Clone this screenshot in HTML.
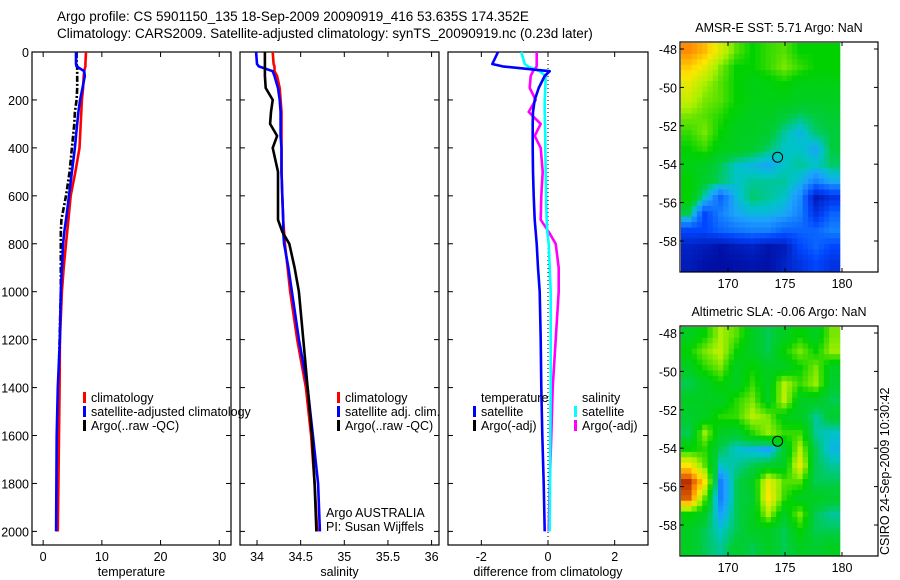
<!DOCTYPE html>
<html><head><meta charset="utf-8"><style>
html,body{margin:0;padding:0;background:#fff;}
svg{display:block;font-family:"Liberation Sans",sans-serif;}
text{font-size:12.5px;fill:#000;}
</style></head><body>
<svg id="chart" width="900" height="580" viewBox="0 0 900 580">
<text x="57" y="21" style="font-size:13.5px">Argo profile: CS 5901150_135 18-Sep-2009 20090919_416 53.635S 174.352E</text>
<text x="57" y="38" style="font-size:13.5px">Climatology: CARS2009. Satellite-adjusted climatology: synTS_20090919.nc (0.23d later)</text>
<g id="plots"></g>
<text transform="translate(889,555) rotate(-90)" style="font-size:12.5px">CSIRO 24-Sep-2009 10:30:42</text>
</svg>
<script>
// ---- data ----
const depths = [0,50,60,80,100,150,200,250,300,350,400,500,600,700,750,800,900,1000,1200,1400,1600,1800,2000];
const tempClim = [7.3,7.2,7.2,7.0,6.9,6.8,6.6,6.5,6.4,6.3,6.2,5.5,4.7,4.3,4.1,3.9,3.5,3.2,2.85,2.8,2.7,2.6,2.5];
const tempSat  = [5.6,5.6,5.7,7.0,7.1,6.7,6.3,6.0,5.8,5.6,5.4,4.9,4.4,3.9,3.6,3.4,3.2,3.0,2.85,2.5,2.3,2.25,2.2];
const tempArgo = [5.7,5.7,5.8,5.8,5.8,5.8,5.7,5.4,5.3,5.1,4.9,4.5,3.9,3.1,3.0,3.0,3.0,3.0,2.8,2.6,2.6,2.5,2.4];
const salClim = [34.18,34.19,34.2,34.2,34.23,34.26,34.27,34.28,34.28,34.28,34.28,34.28,34.29,34.3,34.31,34.32,34.35,34.38,34.46,34.56,34.62,34.66,34.69];
const salSat  = [33.99,34.0,34.02,34.18,34.2,34.24,34.26,34.27,34.27,34.27,34.28,34.28,34.29,34.3,34.3,34.31,34.36,34.4,34.48,34.58,34.64,34.7,34.72];
const salArgo = [34.09,34.09,34.09,34.09,34.09,34.1,34.18,34.16,34.15,34.23,34.18,34.24,34.24,34.24,34.29,34.37,34.43,34.48,34.53,34.58,34.63,34.66,34.68];
const dTempSat = [-1.5,-1.67,-1.36,0.05,-0.1,-0.28,-0.4,-0.45,-0.46,-0.46,-0.46,-0.45,-0.43,-0.4,-0.37,-0.34,-0.3,-0.25,-0.22,-0.2,-0.17,-0.13,-0.1];
const dSalSat  = [-0.8,-0.7,-0.6,-0.25,-0.07,-0.08,-0.1,-0.1,-0.09,-0.08,-0.08,-0.07,-0.06,-0.04,-0.02,0.02,0.05,0.08,0.08,0.08,0.07,0.06,0.05];
const dSalArgo = [-0.34,-0.34,-0.34,-0.45,-0.52,-0.55,-0.37,-0.58,-0.22,-0.4,-0.22,-0.16,-0.2,-0.22,0.02,0.23,0.32,0.32,0.23,0.14,0.1,0.05,0.02];
const depthTicks = [0,200,400,600,800,1000,1200,1400,1600,1800,2000];
const tempTicks = [0,10,20,30];
const salTicks = [34,34.5,35,35.5,36];
const diffTicks = [-2,0,2];
const lonTicks = [170,175,180];
const latTicks = [-48,-50,-52,-54,-56,-58];
const sstGrid = [
[0.85,0.8,0.7,0.6,0.55,0.58,0.6,0.55,0.55,0.55],
[0.78,0.72,0.62,0.55,0.55,0.58,0.62,0.58,0.55,0.55],
[0.72,0.65,0.6,0.55,0.52,0.53,0.55,0.52,0.52,0.52],
[0.68,0.62,0.6,0.55,0.52,0.52,0.52,0.5,0.5,0.5],
[0.62,0.6,0.57,0.53,0.5,0.5,0.47,0.44,0.46,0.48],
[0.58,0.62,0.55,0.5,0.5,0.48,0.42,0.38,0.44,0.46],
[0.55,0.58,0.52,0.5,0.48,0.44,0.4,0.4,0.36,0.46],
[0.52,0.5,0.45,0.4,0.38,0.36,0.4,0.42,0.4,0.44],
[0.55,0.48,0.44,0.4,0.42,0.42,0.42,0.38,0.3,0.36],
[0.55,0.4,0.25,0.38,0.44,0.42,0.4,0.32,0.08,0.15],
[0.45,0.2,0.3,0.36,0.38,0.38,0.36,0.3,0.15,0.25],
[0.2,0.2,0.25,0.28,0.3,0.3,0.25,0.25,0.25,0.3],
[0.1,0.08,0.05,0.08,0.1,0.06,0.08,0.2,0.25,0.2],
[0.08,0.05,0.04,0.05,0.06,0.05,0.1,0.15,0.2,0.15]];
const slaGrid = [
[.5,.55,.65,.6,.5,.45,.5,.55,.5,.62],
[.55,.62,.67,.55,.5,.45,.55,.62,.55,.64],
[.5,.57,.62,.5,.55,.5,.5,.55,.62,.5],
[.45,.5,.55,.5,.58,.5,.66,.58,.64,.48],
[.5,.5,.5,.57,.62,.5,.67,.5,.5,.45],
[.48,.5,.57,.58,.66,.62,.52,.5,.42,.48],
[.45,.64,.5,.48,.57,.64,.58,.58,.42,.4],
[.55,.57,.45,.4,.38,.35,.48,.66,.45,.38],
[.75,.6,.4,.42,.45,.48,.5,.72,.45,.42],
[.95,.75,.3,.45,.5,.72,.6,.6,.45,.45],
[.9,.6,.3,.45,.48,.75,.58,.5,.5,.48],
[.55,.5,.35,.45,.5,.65,.5,.62,.45,.42],
[.5,.45,.4,.45,.5,.5,.45,.55,.45,.45],
[.5,.45,.42,.48,.45,.5,.45,.5,.48,.5]];
const floatLon = 174.352, floatLat = -53.635;

// ---- drawing ----
const NS="http://www.w3.org/2000/svg";
const root=document.getElementById('plots');
function mk(tag,attrs,parent){const e=document.createElementNS(NS,tag);for(const k in attrs)e.setAttribute(k,attrs[k]);(parent||root).appendChild(e);return e;}
function txt(x,y,s,anchor,parent){const t=mk('text',{x:x,y:y,'text-anchor':anchor||'start'},parent);t.textContent=s;return t;}
const yTop=52, yBot=545;
const yD=d=>52+d*0.2397;
function panel(name,x0,x1,xmin,xmax,ticks,label,showDepth){
  const g=mk('g',{});
  
  
  const xs=v=>x0+(v-xmin)/(xmax-xmin)*(x1-x0);
  const r=mk('rect',{x:x0,y:yTop,width:x1-x0,height:yBot-yTop,fill:'none',stroke:'#000','stroke-width':1.2},g);
  
  
  ticks.forEach(v=>{const x=xs(v);
    mk('line',{x1:x,x2:x,y1:yBot,y2:yBot-5,stroke:'#000'},g);
    mk('line',{x1:x,x2:x,y1:yTop,y2:yTop+5,stroke:'#000'},g);
    const t=txt(x,561,String(v),'middle',g);
    
    });
  depthTicks.forEach(d=>{const y=yD(d);
    mk('line',{x1:x0,x2:x0+5,y1:y,y2:y,stroke:'#000'},g);
    mk('line',{x1:x1,x2:x1-5,y1:y,y2:y,stroke:'#000'},g);
    if(showDepth){const t=txt(x0-3,y+5,String(d),'end',g);
      
      }});
  const xl=txt((x0+x1)/2,576,label,'middle',g);
  
  
  return {g,xs};
}
function series(p,vals,color,name,dash){
  const pts=vals.map((v,i)=>p.xs(v).toFixed(1)+','+yD(depths[i]).toFixed(1));
  const a={points:pts.join(' '),fill:'none',stroke:color,'stroke-width':2.6,'stroke-linejoin':'round'};
  if(dash)a['stroke-dasharray']=dash;
  const l=mk('polyline',a,p.g);
  
  
}
function legend(g,x,y,color,label,name){
  if(color){mk('rect',{x:x,y:y-10,width:3,height:11,fill:color},g);}
  const t=txt(x+8,y,label,'start',g);
  
  
}
// temperature
const pT=panel('temperature-panel',32,231,-1.9,32,tempTicks,'temperature',true);
series(pT,tempArgo,'#000','temp-argo-line','6,2,2,2');
series(pT,tempClim,'#f00','temp-climatology-line');
series(pT,tempSat,'#00f','temp-satellite-line');
legend(pT.g,83,402,'#f00','climatology','legend-climatology');
legend(pT.g,83,416,'#00f','satellite-adjusted climatology','legend-satellite');
legend(pT.g,83,430,'#000','Argo(..raw -QC)','legend-argo');
// salinity
const pS=panel('salinity-panel',240,439,33.805,36.085,salTicks,'salinity',false);
series(pS,salClim,'#f00','sal-climatology-line');
series(pS,salSat,'#00f','sal-satellite-line');
series(pS,salArgo,'#000','sal-argo-line');
legend(pS.g,337,402,'#f00','climatology','legend-climatology');
legend(pS.g,337,416,'#00f','satellite adj. clim.','legend-satellite');
legend(pS.g,337,430,'#000','Argo(..raw -QC)','legend-argo');
const ia=txt(326,517,'Argo AUSTRALIA','start',pS.g);
const pi=txt(326,531,'PI: Susan Wijffels','start',pS.g);
// difference
const pD=panel('difference-panel',448,648,-3,3,diffTicks,'difference from climatology',false);
const zl=mk('line',{x1:pD.xs(0),x2:pD.xs(0),y1:yTop,y2:yBot,stroke:'#000','stroke-dasharray':'1,3'},pD.g);

series(pD,dSalArgo,'#f0f','diff-sal-argo-line');
series(pD,dSalSat,'#0ff','diff-sal-satellite-line');
series(pD,dTempSat,'#00f','diff-temp-satellite-line');
legend(pD.g,473,402,null,'temperature','legend-temperature-header');
legend(pD.g,473,416,'#00f','satellite','legend-temp-satellite');
legend(pD.g,473,430,'#000','Argo(-adj)','legend-temp-argo');
legend(pD.g,574,402,null,'salinity','legend-salinity-header');
legend(pD.g,574,416,'#0ff','satellite','legend-sal-satellite');
legend(pD.g,574,430,'#f0f','Argo(-adj)','legend-sal-argo');
// maps
const cmapStops=[[0,[0,0,140]],[0.2,[0,70,255]],[0.35,[30,160,255]],[0.4,[0,195,200]],[0.46,[0,205,60]],[0.55,[0,210,0]],[0.65,[170,240,0]],[0.75,[255,230,0]],[0.85,[255,140,0]],[1,[150,0,0]]];
function cmap(v){
  v=Math.max(0,Math.min(1,v));
  for(let i=1;i<cmapStops.length;i++){
    if(v<=cmapStops[i][0]){const [a,ca]=cmapStops[i-1],[b,cb]=cmapStops[i];const t=(v-a)/(b-a);
      return 'rgb('+ca.map((c,k)=>Math.round(c+(cb[k]-c)*t)).join(',')+')';}
  }
  return 'rgb(150,0,0)';
}
function sample(grid,fy,fx){
  const R=grid.length,C=grid[0].length;
  fy=Math.max(0,Math.min(R-1,fy));fx=Math.max(0,Math.min(C-1,fx));
  const i=Math.floor(fy),j=Math.floor(fx),i2=Math.min(R-1,i+1),j2=Math.min(C-1,j+1),ty=fy-i,tx=fx-j;
  return grid[i][j]*(1-ty)*(1-tx)+grid[i][j2]*(1-ty)*tx+grid[i2][j]*ty*(1-tx)+grid[i2][j2]*ty*tx;
}
function map(name,title,grid,top){
  const g=mk('g',{});
  
  
  const x0=680,x1=878,bot=top+230;
  const lonX=lon=>728+(lon-170)*11.4;
  const latY=lat=>top+7+(-48-lat)*19.2;
  const t=txt(779,top-10,title,'middle',g);
  
  const rows=grid.length,cols=grid[0].length,S=3;
  const cx0=x0+1,cx1=lonX(179.8),cy0=top+1,cy1=bot-1;
  const cw=(cx1-cx0)/(cols*S),ch=(cy1-cy0)/(rows*S);
  for(let i=0;i<rows*S;i++)for(let j=0;j<cols*S;j++){
    const v=sample(grid,(i+0.5)/S-0.5,(j+0.5)/S-0.5);
    const c=mk('rect',{x:(cx0+j*cw).toFixed(1),y:(cy0+i*ch).toFixed(1),width:(cw+0.6).toFixed(1),height:(ch+0.6).toFixed(1),fill:cmap(v)},g);
    
    
  }
  const fr=mk('rect',{x:x0,y:top,width:x1-x0,height:bot-top,fill:'none',stroke:'#000','stroke-width':1.2},g);
  
  lonTicks.forEach(l=>{const x=lonX(l);
    mk('line',{x1:x,x2:x,y1:top,y2:top+4,stroke:'#000'},g);
    mk('line',{x1:x,x2:x,y1:bot,y2:bot-4,stroke:'#000'},g);
    const tl=txt(x,bot+16,String(l),'middle',g);
    });
  latTicks.forEach(l=>{const y=latY(l);
    mk('line',{x1:x0,x2:x0+4,y1:y,y2:y,stroke:'#000'},g);
    mk('line',{x1:x1,x2:x1-4,y1:y,y2:y,stroke:'#000'},g);
    const tl=txt(x0-3,y+5,String(l),'end',g);
    });
  const m=mk('circle',{cx:lonX(floatLon),cy:latY(floatLat),r:5,fill:'none',stroke:'#000'},g);
  
}
map('sst-map','AMSR-E SST: 5.71 Argo: NaN',sstGrid,42);
map('sla-map','Altimetric SLA: -0.06 Argo: NaN',slaGrid,326);
</script>
</body></html>
